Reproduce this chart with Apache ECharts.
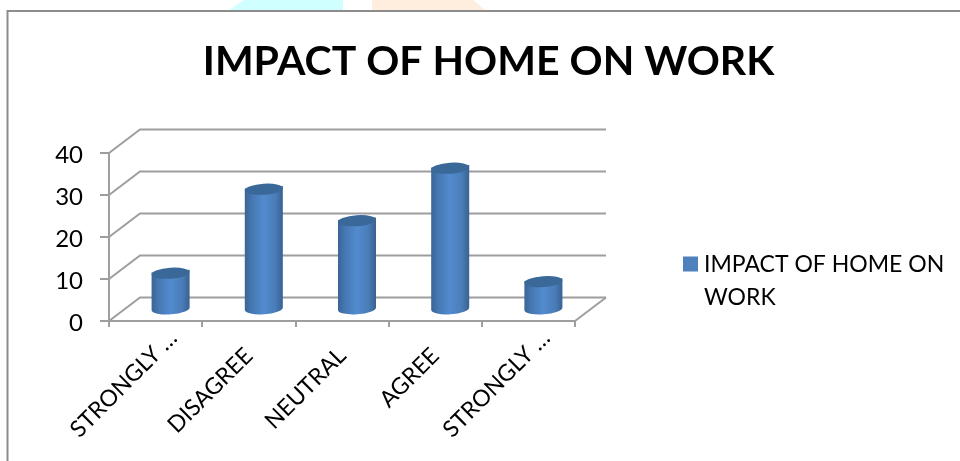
<!DOCTYPE html>
<html><head><meta charset="utf-8">
<style>html,body{margin:0;padding:0;background:#fff}#c{width:960px;height:461px}</style>
<script src="https://cdn.jsdelivr.net/npm/echarts@6/dist/echarts.min.js"></script>
</head><body><div id="c"></div>
<script>
const categories = ['STRONGLY …','DISAGREE','NEUTRAL','AGREE','STRONGLY …'];
const values = [9,29,21.5,34,7];
const yTicks = [0,10,20,30,40];
const seriesName = 'IMPACT OF HOME ON WORK';
const titleText = 'IMPACT OF HOME ON WORK';
const FONT = 'Lato';
const DEPTH_X = 31, DEPTH_Y = -23.5, BASE_LIFT = 10, BAR_SHIFT = 15, TILT = 4, BAR_RATIO = 0.41, RY = 5.5;
const AXIS = '#9e9e9e';

function cylinder(params, api){
  const i = api.value(0), p = api.coord([i, api.value(1)]), b = api.coord([i, 0]);
  const cx = p[0] + BAR_SHIFT, ty = p[1] - BASE_LIFT, by = b[1] - BASE_LIFT;
  const rx = api.size([1,0])[0] * BAR_RATIO / 2;
  const a = TILT*Math.PI/180, dx = rx*Math.cos(a), dy = rx*Math.sin(a);
  const body = `M${cx-dx} ${ty+dy}L${cx-dx} ${by+dy}A${rx} ${RY} ${-TILT} 0 0 ${cx+dx} ${by-dy}L${cx+dx} ${ty-dy}Z`;
  const top = `M${cx-dx} ${ty+dy}A${rx} ${RY} ${-TILT} 0 1 ${cx+dx} ${ty-dy}A${rx} ${RY} ${-TILT} 0 1 ${cx-dx} ${ty+dy}Z`;
  return {type:'group',children:[
    {type:'path',shape:{pathData:body,x:cx-dx,y:ty-dy-RY,width:2*dx,height:by-ty+2*dy+2*RY,layout:'center'},
      style:{fill:{type:'linear',x:0,y:0,x2:1,y2:0,colorStops:[
        {offset:0,color:'#3a6596'},{offset:.2,color:'#4779b3'},{offset:.5,color:'#528bcf'},{offset:.8,color:'#4a7db8'},{offset:1,color:'#386292'}]}}},
    {type:'path',shape:{pathData:top,x:cx-dx,y:ty-RY-dy,width:2*dx,height:2*RY+2*dy,layout:'center'},
      style:{fill:'#3a6899'}}
  ]};
}
function walls(params, api){
  const v = api.value(0), pt = api.coord([0, v]), sys = params.coordSys;
  const x0 = sys.x, x1 = sys.x + sys.width, y = pt[1];
  const kids = [{type:'polyline',shape:{points:[[x0,y],[x0+DEPTH_X,y+DEPTH_Y],[x1+DEPTH_X,y+DEPTH_Y]]},style:{stroke:AXIS,lineWidth:2,fill:null}}];
  if (v === 0) kids.push({type:'line',shape:{x1:x1,y1:y,x2:x1+DEPTH_X,y2:y+DEPTH_Y},style:{stroke:AXIS,lineWidth:2}});
  return {type:'group',children:kids};
}
const chart = echarts.init(document.getElementById('c'),null,{renderer:'canvas'});
chart.setOption({
  animation:false,
  backgroundColor:'#fff',
  textStyle:{fontFamily:FONT},
  title:{text:titleText,left:483.5,top:36,textAlign:'center',textStyle:{fontFamily:FONT,fontWeight:'bold',fontSize:41,color:'#000'}},
  legend:{
    data:[seriesName],left:678,top:243.5,orient:'vertical',itemWidth:15,itemHeight:50,itemGap:0,
    icon:'path://M0 0H15V15H0Z M0 50H0.01V50.01H0Z',
    formatter:()=>'IMPACT OF HOME ON\nWORK',
    textStyle:{fontFamily:FONT,fontSize:23,lineHeight:33,color:'#000',padding:[0,0,0,1]},
    itemStyle:{color:'#4f81bd'}
  },
  grid:{left:109,right:385,top:153,bottom:140},
  xAxis:{type:'category',
    data:categories.map(c=>({value:c,textStyle:{padding:c.includes('…')?[4,-25,0,0]:[4,0,0,0]}})),
    axisLine:{lineStyle:{color:AXIS,width:2}},
    axisTick:{show:true,length:6,lineStyle:{color:AXIS,width:2},alignWithLabel:false},
    axisLabel:{rotate:45,interval:0,margin:31,fontFamily:FONT,fontSize:23,color:'#000'}
  },
  yAxis:{type:'value',min:0,max:40,interval:10,
    axisLine:{show:true,lineStyle:{color:AXIS,width:2}},
    axisTick:{show:true,length:9,lineStyle:{color:AXIS,width:2}},
    axisLabel:{margin:26,color:'#000',customValues:yTicks,
      formatter:v=>`{a|${v}}`,
      rich:{a:{fontFamily:FONT,fontSize:24,color:'#000',padding:[5,0,0,0]}}},
    splitLine:{show:false}
  },
  graphic:[
    {type:'polygon',silent:true,z:-1,shape:{points:[[229,10],[244,0],[343,0],[343,10]]},style:{fill:'#d0ffff'}},
    {type:'polygon',silent:true,z:-1,shape:{points:[[372,10],[372,0],[473,0],[485,10]]},style:{fill:'#ffeedd'}},
    {type:'polyline',silent:true,shape:{points:[[7.5,461],[7.5,11],[960,11]]},style:{stroke:'#8c8c8c',lineWidth:2,fill:null}}
  ],
  series:[
    {type:'custom',name:'walls',data:yTicks.map(v=>[v]),encode:{y:0},renderItem:walls,z:1,silent:true},
    {type:'custom',name:seriesName,coordinateSystem:'cartesian2d',data:values.map((v,i)=>[i,v]),encode:{x:0,y:1},renderItem:cylinder,z:3,itemStyle:{color:'#4f81bd'}}
  ]
});
</script></body></html>
